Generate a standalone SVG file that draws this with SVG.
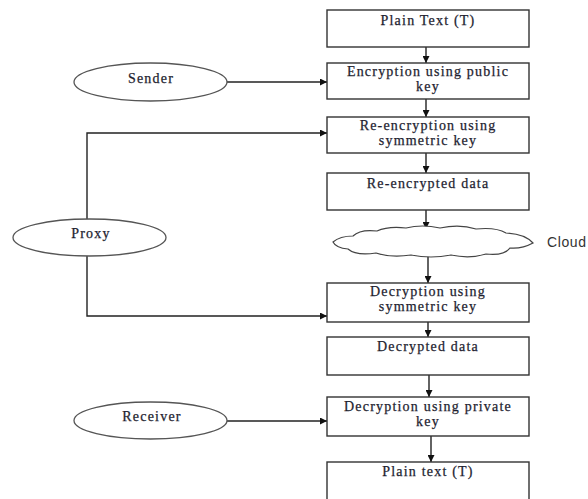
<svg xmlns="http://www.w3.org/2000/svg" width="588" height="499" viewBox="0 0 588 499">
<style>
.box{fill:#fff;stroke:#333;stroke-width:1.4}
.ell{fill:#fff;stroke:#555;stroke-width:1.3}
.t{font-family:"Liberation Serif","Times New Roman",serif;font-size:14px;letter-spacing:1.2px;fill:#1e1e30;stroke:#1e1e30;stroke-width:0.25;text-anchor:middle}
.c{fill:none;stroke:#222;stroke-width:1.4}
.cloudlbl{font-family:"Liberation Sans",Arial,sans-serif;font-size:14px;letter-spacing:0.6px;fill:#333}
</style>
<defs>
<marker id="ah" viewBox="0 0 10 10" refX="10" refY="5" markerWidth="7" markerHeight="7" markerUnits="userSpaceOnUse" orient="auto">
<path d="M0,0 L10,5 L0,10 Z" fill="#111"/>
</marker>
</defs>
<rect width="588" height="499" fill="#fff"/>
<g id="connectors">
<line class="c" x1="426" y1="47" x2="426" y2="63" marker-end="url(#ah)"/>
<line class="c" x1="426" y1="99" x2="426" y2="117" marker-end="url(#ah)"/>
<line class="c" x1="426" y1="153" x2="426" y2="173" marker-end="url(#ah)"/>
<line class="c" x1="426" y1="210" x2="426" y2="229" marker-end="url(#ah)"/>
<line class="c" x1="428" y1="256" x2="428" y2="283" marker-end="url(#ah)"/>
<line class="c" x1="428" y1="322" x2="428" y2="337" marker-end="url(#ah)"/>
<line class="c" x1="429" y1="375" x2="429" y2="397" marker-end="url(#ah)"/>
<line class="c" x1="431" y1="436" x2="431" y2="462" marker-end="url(#ah)"/>
<line class="c" x1="227" y1="82" x2="327" y2="82" marker-end="url(#ah)"/>
<polyline class="c" points="87,219 87,133 327,133" marker-end="url(#ah)"/>
<polyline class="c" points="87,256 87,316 327,316" marker-end="url(#ah)"/>
<line class="c" x1="227" y1="421" x2="327" y2="421" marker-end="url(#ah)"/>
</g>
<g id="plain-text-1">
<rect class="box" x="327" y="10" width="202" height="37"/>
<text class="t" x="428" y="25">Plain Text (T)</text>
</g>
<g id="encryption-public">
<rect class="box" x="327" y="63" width="202" height="36"/>
<text class="t" x="428" y="76">Encryption using public</text>
<text class="t" x="428" y="91">key</text>
</g>
<g id="re-encryption">
<rect class="box" x="327" y="117" width="202" height="36"/>
<text class="t" x="428" y="130">Re-encryption using</text>
<text class="t" x="428" y="145">symmetric key</text>
</g>
<g id="re-encrypted-data">
<rect class="box" x="327" y="173" width="202" height="37"/>
<text class="t" x="428" y="188">Re-encrypted data</text>
</g>
<g id="cloud">
<path d="M333,242 Q340,236 353,236 Q360,229 377,231 Q388,226 406,228 Q422,224 440,228 Q460,224 476,229 Q496,227 506,233 Q525,234 533,243 Q522,249 510,248 Q504,256 486,254 Q470,259 451,255 Q431,259 411,255 Q391,258 376,253 Q356,256 348,249 Q336,248 333,242 Z" fill="#fff" stroke="#444" stroke-width="1.2"/>
<text class="cloudlbl" x="547" y="247">Cloud</text>
</g>
<g id="decryption-symmetric">
<rect class="box" x="327" y="283" width="202" height="39"/>
<text class="t" x="428" y="296">Decryption using</text>
<text class="t" x="428" y="311">symmetric key</text>
</g>
<g id="decrypted-data">
<rect class="box" x="327" y="337" width="202" height="38"/>
<text class="t" x="428" y="351">Decrypted data</text>
</g>
<g id="decryption-private">
<rect class="box" x="327" y="397" width="202" height="39"/>
<text class="t" x="428" y="411">Decryption using private</text>
<text class="t" x="428" y="426">key</text>
</g>
<g id="plain-text-2">
<rect class="box" x="327" y="462" width="202" height="40"/>
<text class="t" x="428" y="476">Plain text (T)</text>
</g>
<g id="sender">
<ellipse class="ell" cx="150.5" cy="82" rx="76.5" ry="19"/>
<text class="t" x="151" y="83">Sender</text>
</g>
<g id="proxy">
<ellipse class="ell" cx="89.5" cy="237.5" rx="76.5" ry="18.5"/>
<text class="t" x="91" y="238">Proxy</text>
</g>
<g id="receiver">
<ellipse class="ell" cx="150.5" cy="420.5" rx="76.5" ry="18.5"/>
<text class="t" x="152" y="421">Receiver</text>
</g>
</svg>
